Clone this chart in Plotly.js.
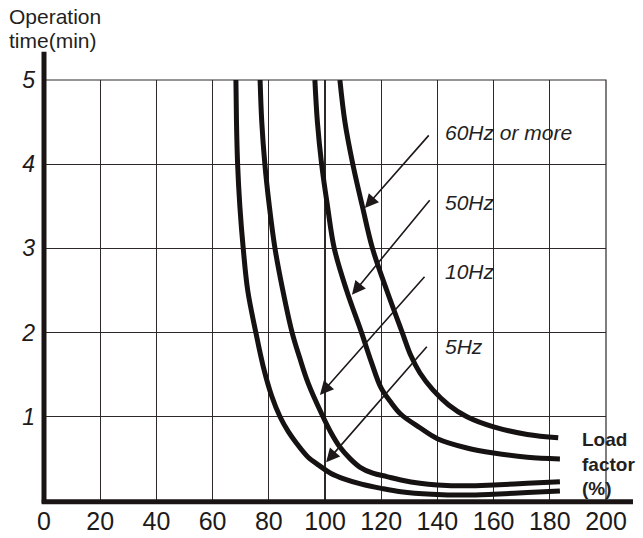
<!DOCTYPE html>
<html><head><meta charset="utf-8">
<script src="https://cdn.plot.ly/plotly-3.0.1.min.js"></script>
<style>html,body{margin:0;padding:0;background:#fff}#chart{width:643px;height:538px}</style>
</head><body><div id="chart"></div>
<script>
// Data (load factor %, operation time min)
const seriesNames = ["5Hz", "10Hz", "50Hz", "60Hz or more"];
const x5 = [68.3, 68.5, 68.9, 69.7, 70.9, 72.5, 75.4, 78, 81, 84, 87, 90, 94, 98, 102, 107, 113, 120, 127, 138, 150, 160, 172, 183.6];
const y5 = [5.0, 4.5, 4.0, 3.5, 3.0, 2.5, 2.0, 1.6, 1.25, 1.0, 0.82, 0.68, 0.52, 0.42, 0.33, 0.26, 0.20, 0.15, 0.11, 0.08, 0.07, 0.08, 0.10, 0.12];
const x10 = [76.9, 77.5, 78.6, 80.2, 82.2, 85, 88.3, 91, 94, 99.3, 102, 105.3, 109, 112.5, 117, 122, 127, 133.8, 140, 150.5, 160, 172, 183.6];
const y10 = [5.0, 4.5, 4.0, 3.5, 3.0, 2.5, 2.0, 1.7, 1.4, 1.0, 0.82, 0.64, 0.50, 0.40, 0.33, 0.29, 0.25, 0.21, 0.19, 0.18, 0.19, 0.21, 0.23];
const x50 = [96.4, 97.3, 98.8, 100.9, 103.3, 107.7, 113, 116.5, 120, 123.5, 127, 133.8, 140, 150.5, 160, 172, 183.6];
const y50 = [5.0, 4.5, 4.0, 3.5, 3.0, 2.5, 2.0, 1.65, 1.34, 1.17, 1.03, 0.87, 0.74, 0.63, 0.57, 0.52, 0.50];
const x60 = [105.3, 107.1, 109.9, 113.3, 116.9, 122, 127.5, 130.5, 133.8, 138.4, 144, 150.5, 160, 172, 183];
const y60 = [5.0, 4.5, 4.0, 3.5, 3.0, 2.5, 2.0, 1.73, 1.52, 1.32, 1.14, 1.0, 0.88, 0.79, 0.75];
const xTicks = [0, 20, 40, 60, 80, 100, 120, 140, 160, 180, 200];
const yTicks = [1, 2, 3, 4, 5];
// label arrows (tail, head) and label anchors, in data units
const arrowTail = [[136.7, 1.85], [135.9, 2.68], [137.7, 3.59], [137.4, 4.36]];
const arrowHead = [[100.4, 0.46], [98.2, 1.26], [109.6, 2.45], [114.2, 3.48]];
const labelPos = [[142, 1.84], [142, 2.72], [142, 3.54], [142, 4.38]];

const FONT = "Liberation Sans, Arial, sans-serif";
const lineColor = "#161212";
const xs = [x5, x10, x50, x60], ys = [y5, y10, y50, y60];
const traces = xs.map((x, i) => ({
  x: x, y: ys[i], type: "scatter", mode: "lines", name: seriesNames[i],
  line: {color: lineColor, width: 5, shape: "spline", smoothing: 1},
  hoverinfo: "skip", cliponaxis: false
}));

const annotations = [];
for (let i = 0; i < 4; i++) {
  annotations.push({
    x: arrowHead[i][0], y: arrowHead[i][1], xref: "x", yref: "y",
    ax: arrowTail[i][0], ay: arrowTail[i][1], axref: "x", ayref: "y",
    showarrow: true, arrowhead: 2, arrowsize: 1.7, arrowwidth: 1.6, arrowcolor: "#1e1818", text: ""
  });
  annotations.push({
    x: labelPos[i][0], y: labelPos[i][1], xref: "x", yref: "y", xanchor: "left", yanchor: "middle",
    showarrow: false, text: seriesNames[i],
    font: {family: FONT, size: 21, color: "#231f1f", style: "italic"}
  });
}
annotations.push({
  x: 0.954, y: 0.44, xref: "paper", yref: "y", xanchor: "left", yanchor: "middle", align: "left",
  showarrow: false, text: "<b>Load<br>factor<br>(%)</b>",
  font: {family: FONT, size: 19, color: "#231f1f"}
});
annotations.push({
  x: -0.066, y: 1.150, xref: "paper", yref: "paper", xanchor: "left", yanchor: "middle", align: "left",
  showarrow: false, text: "Operation",
  font: {family: FONT, size: 21, color: "#231f1f"}
});
annotations.push({
  x: -0.066, y: 1.093, xref: "paper", yref: "paper", xanchor: "left", yanchor: "middle", align: "left",
  showarrow: false, text: "time(min)",
  font: {family: FONT, size: 21, color: "#231f1f"}
});

const layout = {
  width: 643, height: 538,
  margin: {l: 44, r: 37, t: 80, b: 37, pad: 0},
  paper_bgcolor: "#fff", plot_bgcolor: "#fff",
  showlegend: false,
  xaxis: {
    range: [0, 200], tickvals: xTicks, ticktext: xTicks.map(String),
    showgrid: true, gridcolor: "#2e2828", gridwidth: 1.2, zeroline: false, showline: false,
    ticks: "", ticklabelstandoff: 3,
    tickfont: {family: FONT, size: 25, color: "#1e1a1a"}
  },
  yaxis: {
    range: [0, 5], tickvals: yTicks, ticktext: yTicks.map(String),
    showgrid: true, gridcolor: "#2e2828", gridwidth: 1.2, zeroline: false, showline: false,
    ticks: "", ticklabelstandoff: 8,
    tickfont: {family: FONT, size: 23, color: "#1e1a1a", style: "italic"}
  },
  shapes: [
    {type: "rect", layer: "below", xref: "paper", yref: "paper", x0: 0, x1: 1, y0: 0, y1: 1, line: {color: "#2e2828", width: 1.2}},
    {type: "line", xref: "paper", yref: "paper", x0: 0, x1: 0, y0: -0.006, y1: 1.067, line: {color: "#1a1414", width: 5}},
    {type: "line", xref: "paper", yref: "paper", x0: -0.004, x1: 1.048, y0: -0.002, y1: -0.002, line: {color: "#1a1414", width: 5}}
  ],
  annotations: annotations
};
Plotly.newPlot("chart", traces, layout, {staticPlot: true, displayModeBar: false});
</script></body></html>
